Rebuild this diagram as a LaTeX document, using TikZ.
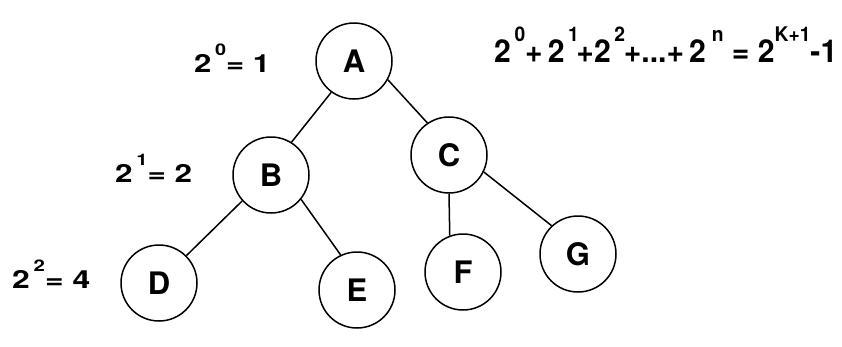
\documentclass[tikz,border=0pt]{standalone}
\usepackage{fontspec}
\setmainfont{TeX Gyre Heros}
\usepackage{graphicx}
\usepackage{tikz}
\usetikzlibrary{positioning}
\newcommand{\up}[2][0.12em]{\hspace{#1}\raisebox{0.66em}{\scalebox{0.64}{#2}}}
\newcommand{\wide}[2]{\resizebox{#1}{\height}{#2}}

\begin{document}
\begin{tikzpicture}[
x=1pt, y=-1pt, circ/.style={circle, draw, line width=1.5pt, minimum size=76pt, inner sep=0pt, font=\fontsize{31}{34}\selectfont\bfseries}, lvl/.style={anchor=base west, inner sep=0pt, font=\fontsize{25}{28}\selectfont\bfseries}, sum/.style={anchor=base west, inner sep=0pt, font=\fontsize{31.5}{34}\selectfont\bfseries}, edge/.style={line width=1.5pt} ]
\useasboundingbox (0,0) rectangle (842,346);
% tree
\node[circ] (A) at (354,61) {A};
\node[circ] (B) at (271,175) {B};
\node[circ] (C) at (449,155) {C};
\node[circ] (D) at (159,283) {D};
\node[circ] (E) at (357,290) {E};
\node[circ] (F) at (463,272) {F};
\node[circ] (G) at (578,254) {G};
% level counts
\node[lvl] (l0) at (194,72) {\wide{76pt}{2\up{0}= 1}};
\node[lvl] (l1) at (115,182) {\wide{77pt}{2\up{1}= 2}};
\node[lvl] (l2) at (12,288) {\wide{78pt}{2\up{2}= 4}};
\node[sum] (total) at (494,62) {\wide{343pt}{2\up{0}+\,2\up{1}\kern-0.08em+2\up{2}\kern-0.04em+...+\,2\up[0.2em]{n} = 2\up[0em]{K+1}-1}};
\draw[edge] (A.234) -- (B.58);
\draw[edge] (A.-29) -- (C.124);
\draw[edge] (B.222) -- (D.45);
\draw[edge] (B.-39) -- (E.115);
\draw[edge] (C.south) -- (F.110);
\draw[edge] (C.-26) -- (G.133);
\end{tikzpicture}
\end{document}
